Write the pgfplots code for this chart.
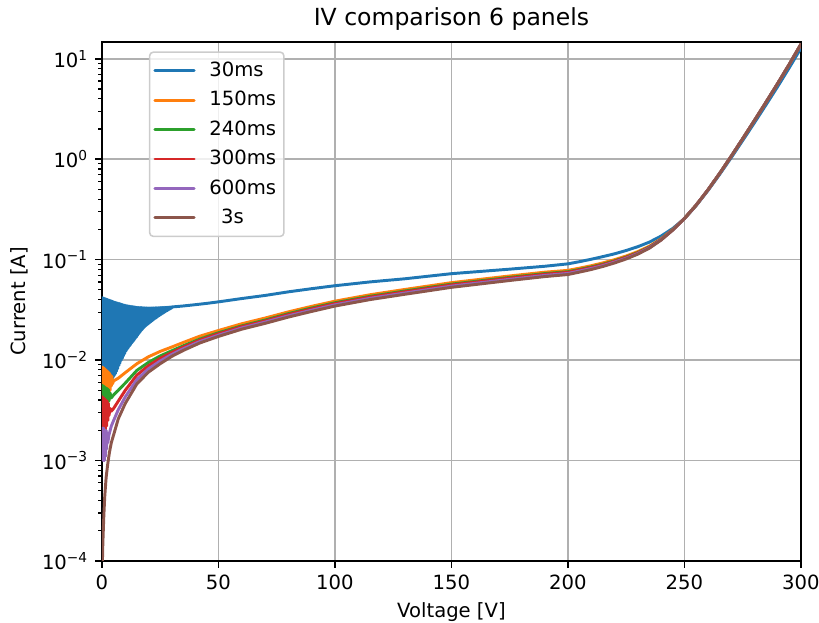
\documentclass[border=0pt]{standalone}
\usepackage{fontspec}
\setmainfont{DejaVu Sans}
\usepackage{pgfplots}
\pgfplotsset{compat=1.18}
\definecolor{c0}{HTML}{1F77B4}
\definecolor{c1}{HTML}{FF7F0E}
\definecolor{c2}{HTML}{2CA02C}
\definecolor{c3}{HTML}{D62728}
\definecolor{c4}{HTML}{9467BD}
\definecolor{c5}{HTML}{8C564B}
\definecolor{gridgray}{HTML}{B0B0B0}
\definecolor{legframe}{HTML}{CCCCCC}
\begin{document}
\begin{tikzpicture}
\useasboundingbox (-52pt,-31.6pt) rectangle (365.7pt,286.1pt);
\begin{axis}[
  at={(0pt,0pt)}, anchor=south west,
  scale only axis,
  width=356.5pt, height=264.7pt,
  xmin=0, xmax=300,
  ymode=log, ymin=1e-4, ymax=14.7,
  xtick={0,50,100,150,200,250,300},
  ytick={1e-4,1e-3,1e-2,1e-1,1,10},
  yticklabels={10\textsuperscript{−4},10\textsuperscript{−3},10\textsuperscript{−2},10\textsuperscript{−1},10\textsuperscript{0},10\textsuperscript{1}},
  minor ytick={2e-4,3e-4,4e-4,5e-4,6e-4,7e-4,8e-4,9e-4,
               2e-3,3e-3,4e-3,5e-3,6e-3,7e-3,8e-3,9e-3,
               2e-2,3e-2,4e-2,5e-2,6e-2,7e-2,8e-2,9e-2,
               0.2,0.3,0.4,0.5,0.6,0.7,0.8,0.9,
               2,3,4,5,6,7,8,9},
  /pgf/number format/assume math mode=true,
  tick align=outside,
  xtick pos=bottom, ytick pos=left,
  major tick length=3.5pt, minor tick length=2pt,
  tick style={black, line width=0.8pt},
  minor tick style={black, line width=0.6pt},
  axis line style={black, line width=0.8pt},
  grid=major,
  major grid style={gridgray, line width=0.8pt},
  tick label style={font=\fontsize{10}{12}\selectfont},
  xlabel={Voltage [V]}, ylabel={Current [A]},
  label style={font=\fontsize{10}{12}\selectfont},
  title={IV comparison 6 panels},
  title style={font=\fontsize{12}{14}\selectfont, yshift=-3.5pt},
  legend cell align=left,
  legend style={at={(0.067,0.982)}, anchor=north west, draw=legframe, line width=0.8pt,
    rounded corners=2pt, fill=white, fill opacity=0.8, text opacity=1,
    font=\fontsize{10}{12}\selectfont, row sep=2.1pt, inner xsep=2pt, inner ysep=3pt},
  legend image code/.code={\draw[#1, line width=1.5pt] (0pt,0pt) -- (20pt,0pt); \path (25pt,0pt);},
  every axis plot/.append style={line width=1.5pt, line join=round, line cap=round},
]
% 30ms
\addplot[c0] coordinates {
(0,0.0420) (0.25,0.0088) (0.5,0.0416) (0.75,0.0084) (1,0.0412) (1.25,0.0080) (1.5,0.0408) (1.75,0.0076) (2,0.0404) (2.25,0.0073)
(2.5,0.0400) (2.75,0.0070) (3,0.0396) (3.25,0.0068) (3.5,0.0392) (3.75,0.0067) (4,0.0388) (4.25,0.0066) (4.5,0.0384) (4.75,0.0067)
(5,0.0380) (5.25,0.0070) (5.5,0.0377) (5.75,0.0073) (6,0.0374) (6.25,0.0077) (6.5,0.0371) (6.75,0.0082) (7,0.0368) (7.25,0.0088)
(7.5,0.0365) (7.75,0.0093) (8,0.0362) (8.25,0.0099) (8.5,0.0359) (8.75,0.0104) (9,0.0356) (9.25,0.0110) (9.5,0.0353) (9.75,0.0116)
(10,0.0350) (10.25,0.0122) (10.5,0.0348) (10.75,0.0127) (11,0.0347) (11.25,0.0132) (11.5,0.0345) (11.75,0.0137) (12,0.0344) (12.25,0.0142)
(12.5,0.0342) (12.75,0.0147) (13,0.0341) (13.25,0.0152) (13.5,0.0339) (13.75,0.0157) (14,0.0338) (14.25,0.0163) (14.5,0.0336) (14.75,0.0169)
(15,0.0335) (15.25,0.0175) (15.5,0.0334) (15.75,0.0182) (16,0.0334) (16.25,0.0188) (16.5,0.0333) (16.75,0.0195) (17,0.0333) (17.25,0.0201)
(17.5,0.0332) (17.75,0.0207) (18,0.0332) (18.25,0.0213) (18.5,0.0331) (18.75,0.0218) (19,0.0331) (19.25,0.0223) (19.5,0.0330) (19.75,0.0228)
(20,0.0330) (20.25,0.0233) (20.5,0.0330) (20.75,0.0238) (21,0.0331) (21.25,0.0243) (21.5,0.0331) (21.75,0.0248) (22,0.0331) (22.25,0.0253)
(22.5,0.0331) (22.75,0.0258) (23,0.0332) (23.25,0.0263) (23.5,0.0332) (23.75,0.0268) (24,0.0332) (24.25,0.0273) (24.5,0.0333) (24.75,0.0278)
(25,0.0333) (25.25,0.0283) (25.5,0.0333) (25.75,0.0288) (26,0.0334) (26.25,0.0293) (26.5,0.0334) (26.75,0.0298) (27,0.0335) (27.25,0.0303)
(27.5,0.0335) (27.75,0.0308) (28,0.0336) (28.25,0.0313) (28.5,0.0336) (28.75,0.0318) (29,0.0337) (29.25,0.0323) (29.5,0.0337) (29.75,0.0328)
(30,0.0338) (32,0.0341) (35,0.0346) (40,0.0356) (45,0.0367) (50,0.0380) (60,0.0410) (70,0.0440) (80,0.0478) (90,0.0514)
(100,0.0550) (115,0.0600) (130,0.0645) (150,0.0725) (175,0.0804) (190,0.0859) (200,0.0908) (205,0.0955) (210,0.1009) (215,0.1072)
(220,0.1143) (225,0.1233) (230,0.1346) (235,0.1496) (240,0.1718) (245,0.2046) (250,0.2559) (255,0.3451) (260,0.4842) (265,0.6998)
(270,1.0304) (275,1.5346) (280,2.3014) (285,3.4754) (290,5.2845) (295,8.1470) (300,12.764)
};
\addlegendentry{30ms\hspace{5pt}}
% 150ms
\addplot[c1] coordinates {
(0.25,0.0085) (0.5,0.0044) (0.75,0.0084) (1.0,0.0041) (1.25,0.0082) (1.5,0.0039) (1.75,0.0080) (2.0,0.0038) (2.25,0.0078) (2.5,0.0040)
(2.75,0.0076) (3.0,0.0045) (3.25,0.0074) (3.5,0.0050) (3.75,0.0071) (4.0,0.0055) (4.25,0.0069) (4.5,0.0058) (5,0.0062) (7,0.0066)
(10,0.0075) (15,0.0092) (20,0.0108) (25,0.0122) (30,0.0135) (35,0.0150) (42,0.0173) (50,0.0197) (60,0.0230) (70,0.0262)
(80,0.0302) (90,0.0343) (100,0.0386) (115,0.0447) (130,0.0505) (150,0.0590) (175,0.0688) (190,0.0750)
(200,0.0782) (205,0.0823) (210,0.0870) (215,0.0928) (220,0.0999) (225,0.1087) (230,0.1203) (235,0.1362) (240,0.1614) (245,0.1996)
(250,0.2570) (255,0.3483) (260,0.4920) (265,0.7161) (270,1.0641) (275,1.5996) (280,2.4210) (285,3.6898) (290,5.6624) (295,8.8105) (300,13.964)
};
\addlegendentry{150ms\hspace{5pt}}
% 240ms
\addplot[c2] coordinates {
(0.25,0.0056) (0.5,0.0034) (0.75,0.0055) (1.0,0.0033) (1.25,0.0054) (1.5,0.0033) (1.75,0.0053) (2.0,0.0034) (2.25,0.0052) (2.5,0.0036)
(2.75,0.0051) (3.0,0.0039) (3.5,0.0047) (4,0.0042) (5,0.0045) (7,0.0050) (10,0.0059) (15,0.0079) (20,0.0095) (25,0.0110)
(30,0.0124) (35,0.0139) (42,0.0162) (50,0.0187) (60,0.0219) (70,0.0250) (80,0.0290) (90,0.0330) (100,0.0372) (115,0.0431) (130,0.0487)
(150,0.0570) (175,0.0665) (190,0.0726)
(200,0.0758) (205,0.0799) (210,0.0846) (215,0.0902) (220,0.0973) (225,0.1062) (230,0.1178) (235,0.1339) (240,0.1595) (245,0.1988)
(250,0.2570) (255,0.3483) (260,0.4920) (265,0.7161) (270,1.0641) (275,1.5996) (280,2.4210) (285,3.6898) (290,5.6624) (295,8.8105) (300,13.964)
};
\addlegendentry{240ms\hspace{5pt}}
% 300ms
\addplot[c3] coordinates {
(0.25,0.0043) (0.5,0.0019) (0.75,0.0042) (1.0,0.0019) (1.25,0.0041) (1.5,0.0020) (1.75,0.0040) (2.0,0.0022) (2.25,0.0039) (2.5,0.0025)
(2.75,0.0037) (3.0,0.0028) (3.5,0.0033) (4,0.0031) (5,0.0033) (7,0.0039) (10,0.0050) (15,0.0071) (20,0.0088) (25,0.0104)
(30,0.0119) (35,0.0135) (42,0.0158) (50,0.0183) (60,0.0215) (70,0.0245) (80,0.0284) (90,0.0323) (100,0.0365) (115,0.0423) (130,0.0478)
(150,0.0560) (175,0.0654) (190,0.0714)
(200,0.0747) (205,0.0788) (210,0.0834) (215,0.0891) (220,0.0962) (225,0.1051) (230,0.1167) (235,0.1329) (240,0.1587) (245,0.1982)
(250,0.2570) (255,0.3483) (260,0.4920) (265,0.7161) (270,1.0641) (275,1.5996) (280,2.4210) (285,3.6898) (290,5.6624) (295,8.8105) (300,13.964)
};
\addlegendentry{300ms\hspace{5pt}}
% 600ms
\addplot[c4] coordinates {
(0.25,0.0021) (0.5,0.0010) (0.75,0.0021) (1.0,0.0010) (1.25,0.0020) (1.5,0.0011) (1.75,0.0020) (2.0,0.0013) (2.25,0.0019) (2.5,0.0015)
(3,0.0018) (4,0.0022) (5,0.0025) (7,0.0032) (10,0.0043) (15,0.0064) (20,0.0082) (25,0.0098) (30,0.0114) (35,0.0130)
(42,0.0153) (50,0.0177) (60,0.0209) (70,0.0239) (80,0.0276) (90,0.0314) (100,0.0355) (115,0.0412) (130,0.0465) (150,0.0545) (175,0.0637)
(190,0.0696)
(200,0.0729) (205,0.0770) (210,0.0816) (215,0.0872) (220,0.0944) (225,0.1032) (230,0.1150) (235,0.1316) (240,0.1576) (245,0.1978)
(250,0.2570) (255,0.3483) (260,0.4920) (265,0.7161) (270,1.0641) (275,1.5996) (280,2.4210) (285,3.6898) (290,5.6624) (295,8.8105) (300,13.964)
};
\addlegendentry{600ms\hspace{5pt}}
% 3s
\addplot[c5] coordinates {
(0.1,0.00007) (0.3,0.00013) (0.5,0.00018) (0.8,0.00028) (1.2,0.00044) (1.8,0.00068) (2.5,0.00093) (3.2,0.0012) (4,0.0015) (5,0.0018)
(7,0.0026) (10,0.0037) (15,0.0058) (20,0.0076) (25,0.0092) (30,0.0109) (35,0.0125) (42,0.0148) (50,0.0172) (60,0.0203)
(70,0.0232) (80,0.0268) (90,0.0305) (100,0.0345) (115,0.0400) (130,0.0452) (150,0.0530) (175,0.0620) (190,0.0678)
(200,0.0711) (205,0.0752) (210,0.0798) (215,0.0855) (220,0.0927) (225,0.1016) (230,0.1135) (235,0.1303) (240,0.1567) (245,0.1972)
(250,0.2570) (255,0.3483) (260,0.4920) (265,0.7161) (270,1.0641) (275,1.5996) (280,2.4210) (285,3.6898) (290,5.6624) (295,8.8105) (300,13.964)
};
\addlegendentry{\hspace{0.6em}3s\hspace{5pt}}
\end{axis}
\end{tikzpicture}
\end{document}
